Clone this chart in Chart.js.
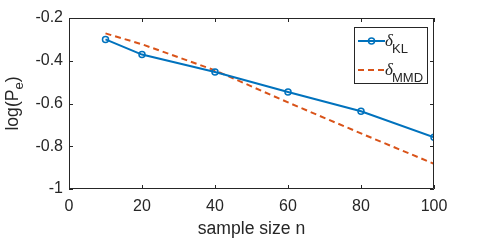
<!DOCTYPE html>
<html>
<head>
<meta charset="utf-8">
<script src="https://cdn.jsdelivr.net/npm/chart.js@4.4.1/dist/chart.umd.min.js"></script>
<style>
  html, body { margin: 0; padding: 0; background: #fff; }
  #wrap { width: 480px; height: 240px; }
</style>
</head>
<body>
<div id="wrap"><canvas id="pe"></canvas></div>
<script>
// sample sizes and log error probabilities
const sampleSizes = [10, 20, 40, 60, 80, 100];
const klValues = [-0.300, -0.371, -0.453, -0.546, -0.636, -0.758];
const mmdValues = [-0.272, -0.323, -0.445, -0.595, -0.740, -0.882];
const xTicks = [0, 20, 40, 60, 80, 100];
const yTicks = [-1, -0.8, -0.6, -0.4, -0.2];

const axisColor = '#262626';
const sans = '"Liberation Sans", Arial, sans-serif';

function points(ys) {
  return sampleSizes.map((x, i) => ({ x, y: ys[i] }));
}

// MATLAB-style box, inward ticks, axis titles and legend
const matlabAxes = {
  id: 'matlabAxes',
  afterDraw(chart) {
    const ctx = chart.ctx;
    const a = chart.chartArea;
    const xs = chart.scales.x;
    const ys = chart.scales.y;
    const tl = 4;

    ctx.save();
    ctx.strokeStyle = axisColor;
    ctx.lineWidth = 1;
    ctx.beginPath();
    ctx.rect(a.left + 0.5, a.top + 0.5, a.right - a.left - 1, a.bottom - a.top - 1);
    xTicks.forEach((v) => {
      const px = Math.round(xs.getPixelForValue(v)) + 0.5;
      ctx.moveTo(px, a.bottom); ctx.lineTo(px, a.bottom - tl);
      ctx.moveTo(px, a.top); ctx.lineTo(px, a.top + tl);
    });
    yTicks.forEach((v) => {
      const py = Math.round(ys.getPixelForValue(v)) + 0.5;
      ctx.moveTo(a.left, py); ctx.lineTo(a.left + tl, py);
      ctx.moveTo(a.right, py); ctx.lineTo(a.right - tl, py);
    });
    ctx.stroke();

    // x title
    ctx.fillStyle = axisColor;
    ctx.font = '17.6px ' + sans;
    ctx.textAlign = 'center';
    ctx.textBaseline = 'middle';
    ctx.fillText('sample size n', (a.left + a.right) / 2, 229);

    // y title with subscript
    ctx.save();
    ctx.translate(12, (a.top + a.bottom) / 2);
    ctx.rotate(-Math.PI / 2);
    ctx.textAlign = 'left';
    ctx.textBaseline = 'alphabetic';
    ctx.font = '17.6px ' + sans;
    const main = 'log(P';
    const wMain = ctx.measureText(main).width;
    ctx.font = '13px ' + sans;
    const wSub = ctx.measureText('e').width;
    ctx.font = '17.6px ' + sans;
    const wEnd = ctx.measureText(')').width;
    let x0 = -(wMain + wSub + wEnd) / 2;
    ctx.fillText(main, x0, 6);
    ctx.font = '13px ' + sans;
    ctx.fillText('e', x0 + wMain, 11);
    ctx.font = '17.6px ' + sans;
    ctx.fillText(')', x0 + wMain + wSub, 6);
    ctx.restore();

    // legend
    const lx = 354, ly = 27, lw = 73, lh = 56;
    ctx.fillStyle = '#fff';
    ctx.fillRect(lx, ly, lw, lh);
    ctx.strokeStyle = axisColor;
    ctx.lineWidth = 1;
    ctx.strokeRect(lx + 0.5, ly + 0.5, lw, lh);

    const rows = [
      { ds: chart.data.datasets[0], y: 41, sub: 'KL' },
      { ds: chart.data.datasets[1], y: 70, sub: 'MMD' }
    ];
    rows.forEach((r) => {
      ctx.strokeStyle = r.ds.borderColor;
      ctx.lineWidth = r.ds.borderWidth;
      ctx.setLineDash(r.ds.borderDash || []);
      ctx.beginPath();
      ctx.moveTo(358, r.y); ctx.lineTo(385, r.y);
      ctx.stroke();
      ctx.setLineDash([]);
      if (r.ds.pointRadius > 0) {
        ctx.lineWidth = r.ds.pointBorderWidth;
        ctx.beginPath();
        ctx.arc(371.5, r.y, r.ds.pointRadius, 0, Math.PI * 2);
        ctx.stroke();
      }
      ctx.fillStyle = axisColor;
      ctx.textAlign = 'left';
      ctx.textBaseline = 'alphabetic';
      ctx.font = 'italic 17px "Liberation Serif", "DejaVu Serif", serif';
      ctx.fillText('\u03b4', 385, r.y + 5);
      ctx.font = '13px ' + sans;
      ctx.fillText(r.sub, 392, r.y + 12);
    });
    ctx.restore();
  }
};

new Chart(document.getElementById('pe'), {
  type: 'line',
  data: {
    datasets: [
      {
        label: '\u03b4KL',
        data: points(klValues),
        borderColor: '#0072BD',
        backgroundColor: '#0072BD',
        borderWidth: 2,
        pointRadius: 3,
        pointBorderWidth: 1.5,
        pointBackgroundColor: 'rgba(0,0,0,0)',
        pointBorderColor: '#0072BD',
        tension: 0
      },
      {
        label: '\u03b4MMD',
        data: points(mmdValues),
        borderColor: '#D95319',
        backgroundColor: '#D95319',
        borderWidth: 2,
        borderDash: [6, 4],
        pointRadius: 0,
        tension: 0
      }
    ]
  },
  options: {
    responsive: true,
    maintainAspectRatio: false,
    animation: false,
    layout: { padding: { left: 0, right: 46, top: 18, bottom: 0 } },
    plugins: {
      legend: { display: false },
      tooltip: { enabled: false }
    },
    scales: {
      x: {
        type: 'linear',
        min: 0,
        max: 100,
        afterFit(scale) { scale.height = 51; },
        afterBuildTicks(scale) { scale.ticks = xTicks.map((v) => ({ value: v })); },
        grid: { display: false, drawTicks: false },
        border: { display: false },
        ticks: {
          color: axisColor,
          font: { family: sans, size: 16 },
          padding: 8,
          maxRotation: 0
        }
      },
      y: {
        type: 'linear',
        min: -1,
        max: -0.2,
        afterFit(scale) { scale.width = 69; },
        afterBuildTicks(scale) { scale.ticks = yTicks.map((v) => ({ value: v })); },
        grid: { display: false, drawTicks: false },
        border: { display: false },
        ticks: {
          color: axisColor,
          font: { family: sans, size: 16 },
          padding: 6,
          callback: (v) => String(Number(v.toFixed(1)))
        }
      }
    }
  },
  plugins: [matlabAxes]
});
</script>
</body>
</html>
